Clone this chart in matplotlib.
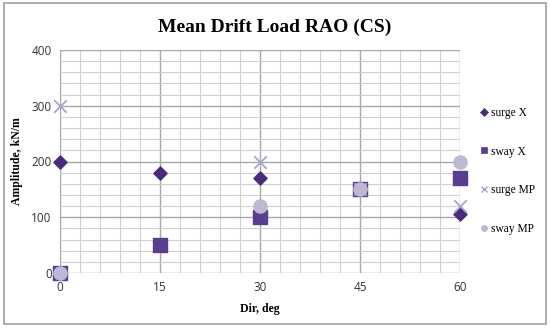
import matplotlib
matplotlib.use("Agg")
import matplotlib.pyplot as plt
from matplotlib.patches import Rectangle
from matplotlib.lines import Line2D

direction = [0, 15, 30, 45, 60]
surge_x = [200, 180, 170, 150, 105]
sway_x = [0, 50, 100, 150, 170]
dir_mp = [0, 30, 45, 60]
surge_mp = [300, 200, 150, 120]
sway_mp = [0, 120, 150, 200]

names = ["surge X", "sway X", "surge MP", "sway MP"]
colors = ["#4a2a7a", "#5b3d8f", "#a9a3cb", "#bdb8d4"]
markers = ["D", "s", "x", "o"]

fig = plt.figure(figsize=(5.5, 3.29), dpi=100)
fig.patches.append(Rectangle((0.008, 0.015), 0.984, 0.975, transform=fig.transFigure,
                             fill=False, edgecolor="#a0a0a0", linewidth=1.2))
ax = fig.add_axes([60 / 550, 56 / 329, 400 / 550, 223 / 329])

ax.set_xlim(0, 60)
ax.set_ylim(0, 400)
ax.set_xticks(direction)
ax.set_yticks([0, 100, 200, 300, 400])
ax.set_xticks(range(0, 61, 3), minor=True)
ax.set_yticks(range(0, 401, 20), minor=True)
ax.grid(which="major", color="#a8a8a8", linewidth=1.0)
ax.grid(which="minor", color="#d0d0d0", linewidth=0.8)
ax.set_axisbelow(True)
for s in ax.spines.values():
    s.set_visible(False)
ax.tick_params(which="both", length=0, labelsize=8.5, colors="#333333", pad=6)
for lab in ax.get_xticklabels() + ax.get_yticklabels():
    lab.set_family("Open Sans")

ax.scatter(direction, surge_x, marker=markers[0], s=45, color=colors[0], zorder=3, clip_on=False)
ax.scatter(direction, sway_x, marker=markers[1], s=90, color=colors[1], zorder=3, clip_on=False)
ax.scatter(dir_mp, surge_mp, marker=markers[2], s=80, color=colors[2], linewidths=1.3, zorder=3, clip_on=False)
ax.scatter(dir_mp, sway_mp, marker=markers[3], s=90, color=colors[3], zorder=4, clip_on=False)

fig.text(0.5, 1 - 27 / 329, "Mean Drift Load RAO (CS)", family="Liberation Serif",
         fontweight="bold", fontsize=14, ha="center", va="center")
ax.set_xlabel("Dir, deg", family="Liberation Serif", fontweight="bold", fontsize=8.5, labelpad=6)
ax.set_ylabel("Amplitude, kN/m", family="Liberation Serif", fontweight="bold", fontsize=8.5, labelpad=6)

handles = [Line2D([], [], linestyle="none", marker=m, color=c, markersize=4.5,
                  markeredgewidth=1.0 if m == "x" else 0.5)
           for m, c in zip(markers, colors)]
fig.legend(handles, names, loc="upper left", bbox_to_anchor=(479 / 550, 1 - 107 / 329),
           frameon=False, prop={"family": "Liberation Serif", "size": 8.3},
           labelspacing=2.3, handlelength=0.8, handletextpad=0.2,
           borderaxespad=0, borderpad=0)

fig.savefig("out.png", dpi=100)
